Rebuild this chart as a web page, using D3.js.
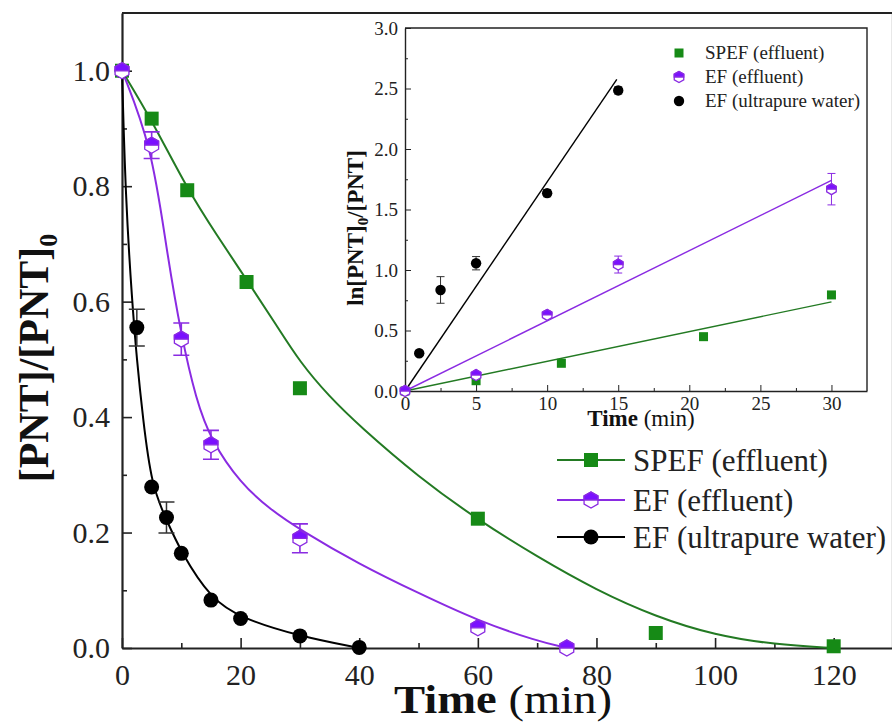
<!DOCTYPE html>
<html><head><meta charset="utf-8">
<script src="https://cdn.jsdelivr.net/npm/d3@7"></script>
<style>
body{margin:0;background:#fff;}
svg{display:block;font-family:"Liberation Serif",serif;}
svg text{font-family:"Liberation Serif",serif;}
</style></head><body>
<svg id="chart" width="892" height="724"></svg>
<script>
/* data */
const seriesNames = ["SPEF (effluent)", "EF (effluent)", "EF (ultrapure water)"];

// main panel: [PNT]/[PNT]0 vs time
const spefTime = [0, 5, 11, 21, 30, 60, 90, 120];
const spefConc = [1.0, 0.917, 0.793, 0.634, 0.45, 0.224, 0.026, 0.003];
const efTime = [0, 5, 10, 15, 30, 60, 75];
const efConc = [1.0, 0.871, 0.535, 0.352, 0.19, 0.035, 0.0];
const efErr = [0, 0.023, 0.028, 0.025, 0.025, 0, 0];
const upwTime = [0, 2.5, 5, 7.5, 10, 15, 20, 30, 40];
const upwConc = [1.0, 0.555, 0.279, 0.226, 0.164, 0.083, 0.051, 0.021, 0.001];
const upwErr = [0, 0.032, 0, 0.027, 0, 0, 0, 0, 0];

// fitted curves (traced)
const spefFitT = [0, 5, 11, 16, 21, 26, 30, 35, 40, 50, 60, 70, 80, 90, 100, 110, 120];
const spefFitY = [1.0, 0.915, 0.795, 0.715, 0.638, 0.56, 0.495, 0.435, 0.385, 0.296, 0.222, 0.158, 0.10, 0.054, 0.022, 0.006, 0.0];
const efFitT = [0, 5, 7.5, 10, 12.5, 15, 20, 25, 30, 40, 50, 60, 70, 75];
const efFitY = [1.0, 0.87, 0.69, 0.54, 0.43, 0.36, 0.285, 0.24, 0.205, 0.145, 0.095, 0.047, 0.012, 0.0];
const upwFitT = [0, 0.6, 1.7, 2.5, 3.5, 5, 7.5, 10, 15, 20, 30, 40];
const upwFitY = [1.0, 0.78, 0.6, 0.5, 0.4, 0.28, 0.222, 0.165, 0.085, 0.052, 0.02, 0.0];

// inset: ln([PNT]0/[PNT]) vs time
const spefLnT = [0, 5, 11, 21, 30];
const spefLn = [0, 0.085, 0.229, 0.449, 0.794];
const efLnT = [0, 5, 10, 15, 30];
const efLn = [0, 0.132, 0.629, 1.045, 1.668];
const efLnErr = [0, 0.02, 0.03, 0.07, 0.13];
const upwLnT = [0, 1, 2.5, 5, 10, 15];
const upwLn = [0, 0.312, 0.835, 1.056, 1.635, 2.484];
const upwLnErr = [0, 0.02, 0.11, 0.055, 0.03, 0.03];
// linear fits: [start, end]
const spefLineT = [0, 30], spefLineY = [0, 0.737];
const efLineT = [0, 30], efLineY = [0, 1.74];
const upwLineT = [0, 14.9], upwLineY = [0, 2.575];

const mainXTicks = [0, 20, 40, 60, 80, 100, 120];
const mainYTicks = [0, 0.2, 0.4, 0.6, 0.8, 1.0];
const insetXTicks = [0, 5, 10, 15, 20, 25, 30];
const insetYTicks = [0, 0.5, 1.0, 1.5, 2.0, 2.5, 3.0];

const green = "#237a23", greenFill = "#168a16";
const purple = "#8a2be2", purpleFill = "#7a10ff";
const black = "#000";

const zip = (a, b, e) => a.map((v, i) => ({x: v, y: b[i], e: e ? e[i] : 0}));

const svg = d3.select("#chart");

/* marker helpers */
function square(g, s, color) {
    g.append("rect").attr("x", -s/2).attr("y", -s/2).attr("width", s).attr("height", s)
        .attr("fill", color);
}
function dot(g, r, color) {
    g.append("circle").attr("r", r).attr("fill", color);
}
function halfHex(g, r) {
    const c = r * Math.cos(Math.PI / 6);
    g.append("path")
        .attr("d", `M0,${-r}L${c},${-r/2}L${c},${r/2}L0,${r}L${-c},${r/2}L${-c},${-r/2}Z`)
        .attr("fill", "#fff").attr("stroke", purple).attr("stroke-width", 1.3);
    g.append("path")
        .attr("d", `M${-c},0L${-c},${-r/2}L0,${-r}L${c},${-r/2}L${c},0Z`)
        .attr("fill", purpleFill).attr("stroke", purple).attr("stroke-width", 1.3);
}

function drawAxes(g, x, y, opt) {
    const [x0, x1] = x.range(), [y0, y1] = y.range();
    // minor ticks
    g.append("g").attr("transform", `translate(0,${y0})`)
        .call(d3.axisBottom(x).tickValues(opt.xMinor).tickSize(-opt.minor).tickSizeOuter(0).tickFormat(""))
        .call(a => a.select(".domain").remove());
    g.append("g").attr("transform", `translate(${x0},0)`)
        .call(d3.axisLeft(y).tickValues(opt.yMinor).tickSize(-opt.minor).tickSizeOuter(0).tickFormat(""))
        .call(a => a.select(".domain").remove());
    const xa = g.append("g").attr("transform", `translate(0,${y0})`)
        .call(d3.axisBottom(x).tickValues(opt.xTicks).tickSize(-opt.major).tickSizeOuter(0)
            .tickPadding(opt.xPad).tickFormat(d3.format("d")));
    const ya = g.append("g").attr("transform", `translate(${x0},0)`)
        .call(d3.axisLeft(y).tickValues(opt.yTicks).tickSize(-opt.major).tickSizeOuter(0)
            .tickPadding(opt.yPad).tickFormat(d3.format(".1f")));
    [xa, ya].forEach(a => {
        a.attr("font-family", null);
        a.selectAll("text").attr("font-size", opt.font).attr("fill", "#222")
            .style("font-family", '"Liberation Serif", serif');
        a.select(".domain").attr("stroke", "#222").attr("stroke-width", opt.aw);
    });
    g.selectAll("g.tick line").attr("stroke", "#222").attr("stroke-width", opt.tw);
    // frame: top and right
    g.append("path").attr("d", `M${x0},${y1}H${x1}V${y0}`)
        .attr("fill", "none").attr("stroke", "#222").attr("stroke-width", opt.aw);
}

function errBars(g, data, x, y, cap, color, w) {
    data.filter(d => d.e > 0).forEach(d => {
        const cx = x(d.x), t = y(d.y + d.e), b = y(d.y - d.e);
        g.append("path")
            .attr("d", `M${cx},${t}V${b}M${cx-cap/2},${t}H${cx+cap/2}M${cx-cap/2},${b}H${cx+cap/2}`)
            .attr("stroke", color).attr("stroke-width", w).attr("fill", "none");
    });
}

/* ---------- main panel ---------- */
const x = d3.scaleLinear().domain([0, 130]).range([122, 893]);
const y = d3.scaleLinear().domain([0, 1.1]).range([648, 13]);

const main = svg.append("g");
drawAxes(main, x, y, {
    xTicks: mainXTicks, yTicks: mainYTicks,
    xMinor: d3.range(10, 130, 20), yMinor: d3.range(0.1, 1.1, 0.2),
    major: 10, minor: 5, xPad: 16, yPad: 12, font: 30, tw: 1.6, aw: 2.2
});

const curve = d3.line().x(d => x(d.x)).y(d => y(d.y)).curve(d3.curveBasis);
[[spefFitT, spefFitY, green], [efFitT, efFitY, purple], [upwFitT, upwFitY, black]].forEach(([t, v, c]) => {
    main.append("path").datum(zip(t, v)).attr("d", curve)
        .attr("fill", "none").attr("stroke", c).attr("stroke-width", 2);
});

errBars(main, zip(upwTime, upwConc, upwErr), x, y, 16, "#333", 1.5);
errBars(main, zip(efTime, efConc, efErr), x, y, 16, purple, 1.6);

zip(spefTime, spefConc).forEach(d => {
    square(main.append("g").attr("transform", `translate(${x(d.x)},${y(d.y)})`), 14, greenFill);
});
zip(upwTime, upwConc).forEach(d => {
    dot(main.append("g").attr("transform", `translate(${x(d.x)},${y(d.y)})`), 7.5, black);
});
zip(efTime, efConc).forEach(d => {
    halfHex(main.append("g").attr("transform", `translate(${x(d.x)},${y(d.y)})`), 8);
});

// axis titles
const xt = main.append("text").attr("x", 503).attr("y", 713).attr("text-anchor", "middle")
    .attr("font-size", 39).attr("fill", "#111")
    .attr("textLength", 218).attr("lengthAdjust", "spacingAndGlyphs");
xt.append("tspan").attr("font-weight", "bold").text("Time");
xt.append("tspan").text(" (min)");

const yt = main.append("text").attr("transform", "translate(48,358) rotate(-90)")
    .attr("text-anchor", "middle").attr("font-size", 42).attr("font-weight", "bold").attr("fill", "#111");
yt.append("tspan").text("[PNT]/[PNT]");
yt.append("tspan").attr("font-size", 26).attr("dy", 9).text("0");

// legend
const legRows = [460, 500, 537];
const leg = main.append("g");
[green, purple, black].forEach((c, i) => {
    const r = leg.append("g").attr("transform", `translate(0,${legRows[i]})`);
    r.append("path").attr("d", "M557,0H625").attr("stroke", c).attr("stroke-width", 2);
    const m = r.append("g").attr("transform", "translate(591,0)");
    if (i === 0) square(m, 14, greenFill);
    else if (i === 1) halfHex(m, 8);
    else dot(m, 7.5, black);
    r.append("text").attr("x", 633).attr("y", 11).attr("font-size", 31).attr("fill", "#222")
        .text(seriesNames[i]);
});

/* ---------- inset ---------- */
const ix = d3.scaleLinear().domain([0, 32.5]).range([405, 867]);
const iy = d3.scaleLinear().domain([0, 3]).range([391, 28]);

const inset = svg.append("g");
inset.append("rect").attr("x", 405).attr("y", 28).attr("width", 462).attr("height", 363).attr("fill", "#fff");
drawAxes(inset, ix, iy, {
    xTicks: insetXTicks, yTicks: insetYTicks,
    xMinor: d3.range(2.5, 32.5, 5), yMinor: d3.range(0.25, 3, 0.5),
    major: 6, minor: 3, xPad: 6, yPad: 7, font: 19, tw: 1, aw: 1.4
});

const straight = d3.line().x(d => ix(d.x)).y(d => iy(d.y));
[[spefLineT, spefLineY, green], [efLineT, efLineY, purple], [upwLineT, upwLineY, black]].forEach(([t, v, c]) => {
    inset.append("path").datum(zip(t, v)).attr("d", straight)
        .attr("fill", "none").attr("stroke", c).attr("stroke-width", 1.4);
});

errBars(inset, zip(upwLnT, upwLn, upwLnErr), ix, iy, 8, "#333", 1);
errBars(inset, zip(efLnT, efLn, efLnErr), ix, iy, 8, purple, 1);

zip(spefLnT, spefLn).forEach(d => {
    square(inset.append("g").attr("transform", `translate(${ix(d.x)},${iy(d.y)})`), 9, greenFill);
});
zip(upwLnT, upwLn).forEach(d => {
    dot(inset.append("g").attr("transform", `translate(${ix(d.x)},${iy(d.y)})`), 5.2, black);
});
zip(efLnT, efLn).forEach(d => {
    halfHex(inset.append("g").attr("transform", `translate(${ix(d.x)},${iy(d.y)})`), 5.5);
});

const ixt = inset.append("text").attr("x", 641).attr("y", 426).attr("text-anchor", "middle")
    .attr("font-size", 23).attr("fill", "#111");
ixt.append("tspan").attr("font-weight", "bold").text("Time");
ixt.append("tspan").text(" (min)");

const iyt = inset.append("text").attr("transform", "translate(363,228) rotate(-90)")
    .attr("text-anchor", "middle").attr("font-size", 23).attr("font-weight", "bold").attr("fill", "#111");
iyt.append("tspan").text("ln[PNT]");
iyt.append("tspan").attr("font-size", 15).attr("dy", 5).text("0");
iyt.append("tspan").attr("dy", -5).text("/[PNT]");

const iRows = [53, 77, 101];
[0, 1, 2].forEach(i => {
    const m = inset.append("g").attr("transform", `translate(679,${iRows[i]})`);
    if (i === 0) square(m, 9, greenFill);
    else if (i === 1) halfHex(m, 5.5);
    else dot(m, 5.2, black);
    inset.append("text").attr("x", 705).attr("y", iRows[i] + 6).attr("font-size", 19).attr("fill", "#222")
        .text(seriesNames[i]);
});
</script>
</body></html>
